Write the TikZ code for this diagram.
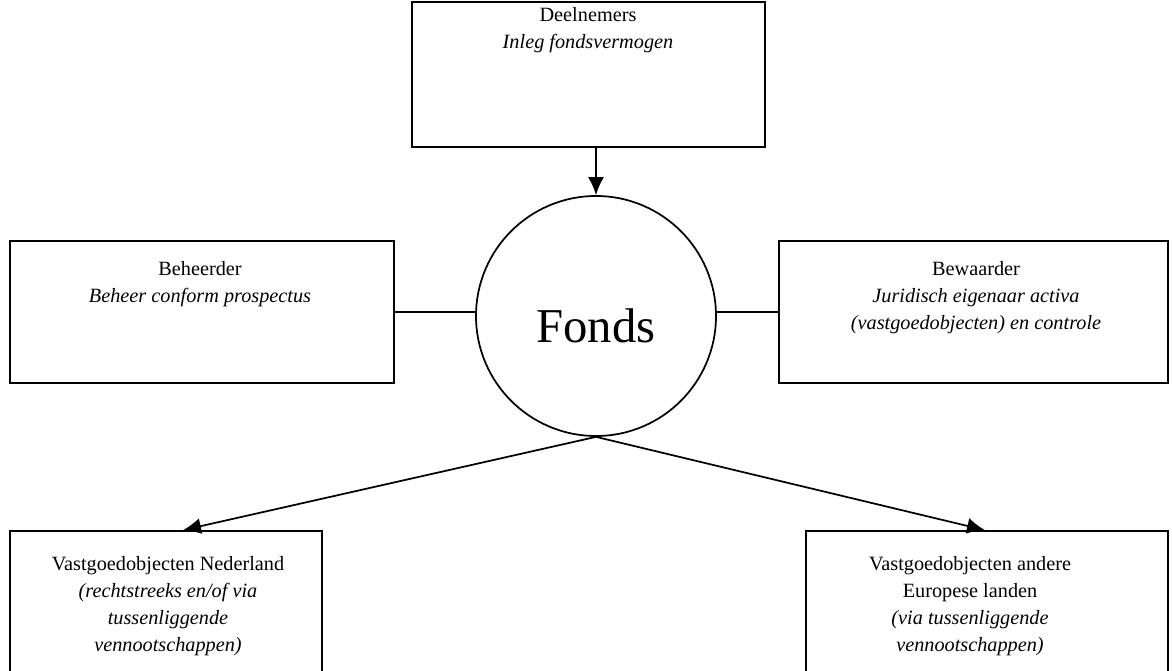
\documentclass[tikz,border=0pt]{standalone}
\usepackage{fontspec}
\setmainfont{Liberation Serif}
\usetikzlibrary{arrows.meta}

\begin{document}
\begin{tikzpicture}[x=0.75pt,y=-0.75pt,
	box/.style={draw,line width=1.3pt,inner sep=0pt},
	txt/.style={align=center,inner sep=0pt,font=\fontsize{15.2}{20.25}\selectfont},
	conn/.style={line width=1.3pt},
	arr/.style={-{Latex[length=13.5pt,width=12pt]},line width=1.3pt}]
	\useasboundingbox (0,0) rectangle (1172,671);
	\clip (0,0) rectangle (1172,671);

	\node[box, minimum width=264.75pt, minimum height=108.75pt] (deelnemers) at (588.5,74.5) {};
	\node[txt] (lblDeel) at (588,30) {Deelnemers\\\textit{Inleg fondsvermogen}};

	\node[box, circle, minimum size=180pt, text height=40pt, text depth=0pt,
		font=\fontsize{36.5}{44}\selectfont] (fonds) at (596,316) {Fonds};

	\node[box, minimum width=288pt, minimum height=106.5pt] (beheerder) at (202,312) {};
	\node[txt] (lblBeh) at (200,284) {Beheerder\\\textit{Beheer conform prospectus}};

	\node[box, minimum width=291.75pt, minimum height=106.5pt] (bewaarder) at (973.5,312) {};
	\node[txt] (lblBew) at (976,298) {Bewaarder\\\textit{Juridisch eigenaar activa}\\\textit{(vastgoedobjecten) en controle}};

	\node[box, minimum width=234pt, minimum height=141.75pt] (vgNL) at (166,625.5) {};
	\node[txt] (lblNL) at (168,606) {Vastgoedobjecten Nederland\\\textit{(rechtstreeks en/of via}\\\textit{tussenliggende}\\\textit{vennootschappen)}};

	\node[box, minimum width=271.5pt, minimum height=141.75pt] (vgEU) at (987,625.5) {};
	\node[txt] (lblEU) at (970,606) {Vastgoedobjecten andere\\Europese landen\\\textit{(via tussenliggende}\\\textit{vennootschappen)}};

	\draw[arr] (deelnemers.south -| fonds.north) -- (fonds.north);
	\draw[conn] (beheerder.east) -- (beheerder.east -| fonds.west);
	\draw[conn] (bewaarder.west) -- (bewaarder.west -| fonds.east);
	\draw[arr] (fonds.south) -- ([xshift=12.75pt]vgNL.north);
	\draw[arr] (fonds.south) -- ([xshift=-1.5pt]vgEU.north);
\end{tikzpicture}
\end{document}
